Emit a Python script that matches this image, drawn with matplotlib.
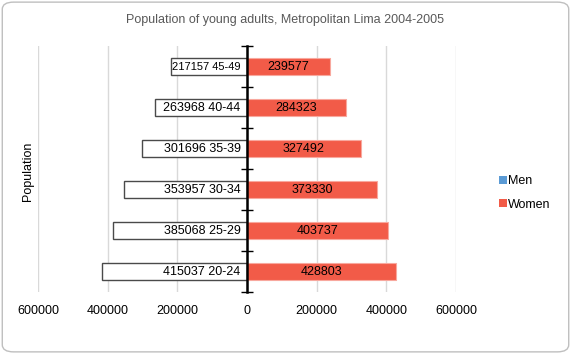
import numpy as np
import matplotlib.pyplot as plt
from matplotlib.patches import FancyBboxPatch, Patch

plt.rcParams['font.family'] = ['Liberation Sans', 'DejaVu Sans']

age_groups = ["20-24", "25-29", "30-34", "35-39", "40-44", "45-49"]
men = [415037, 385068, 353957, 301696, 263968, 217157]
women = [428803, 403737, 373330, 327492, 284323, 239577]
xticks = [-600000, -400000, -200000, 0, 200000, 400000, 600000]

men_edge = "#4A4A4A"
women_color = "#F25B48"

fig = plt.figure(figsize=(5.71, 3.54), dpi=100)
# rounded chart border
fig.patches.append(FancyBboxPatch((0.004, 0.006), 0.992, 0.988,
                                  boxstyle="round,pad=0,rounding_size=0.02",
                                  transform=fig.transFigure, facecolor="white",
                                  edgecolor="#BFBFBF", linewidth=1, zorder=-1))

ax = fig.add_axes([0.0665, 0.175, 0.732, 0.695])
ax.set_facecolor("none")

y = np.arange(len(age_groups))
ax.barh(y, [-m for m in men], height=0.42, color="white", edgecolor=men_edge,
        linewidth=1, zorder=3)
ax.barh(y, women, height=0.42, color=women_color, edgecolor="#F8A89E",
        linewidth=0.8, zorder=3)

for i, (m, w, g) in enumerate(zip(men, women, age_groups)):
    # the shortest men bar gets a squeezed label, as in the original
    fs = 9 if m > 250000 else 8
    ax.text(-18000, i, f"{m} {g}", ha="right", va="center", fontsize=fs,
            color="black", zorder=5)
    ax.text(w / 2, i, f"{w}", ha="center", va="center", fontsize=9,
            color="black", zorder=5)

ax.set_xlim(-600000, 600000)
ax.set_ylim(-0.5, len(age_groups) - 0.5)
ax.set_xticks(xticks)
ax.set_xticklabels([str(abs(v)) for v in xticks], fontsize=9)
ax.tick_params(axis="x", length=0, pad=9)
ax.grid(axis="x", color="#D9D9D9", linewidth=1, zorder=0)

for s in ["top", "right", "bottom"]:
    ax.spines[s].set_visible(False)
ax.spines["left"].set_position(("data", 0))
ax.spines["left"].set_linewidth(1.8)
ax.spines["left"].set_zorder(6)
ax.set_yticks(np.arange(-0.5, len(age_groups), 1.0))
ax.set_yticklabels([])
ax.tick_params(axis="y", direction="inout", length=9, width=1, color="black")

fig.text(0.5, 0.943, "Population of young adults, Metropolitan Lima 2004-2005",
         ha="center", va="center", fontsize=9, color="#595959")
fig.text(0.049, 0.515, "Population", rotation=90, ha="center", va="center",
         fontsize=9)

handles = [Patch(facecolor="#5B9BD5", edgecolor="none", label="Men"),
           Patch(facecolor=women_color, edgecolor="none", label="Women")]
fig.legend(handles=handles, loc="center left", bbox_to_anchor=(0.855, 0.455),
           frameon=False, fontsize=9, handlelength=0.6, handleheight=0.6,
           handletextpad=0.1, labelspacing=0.9)

fig.savefig("out.png", dpi=100)
